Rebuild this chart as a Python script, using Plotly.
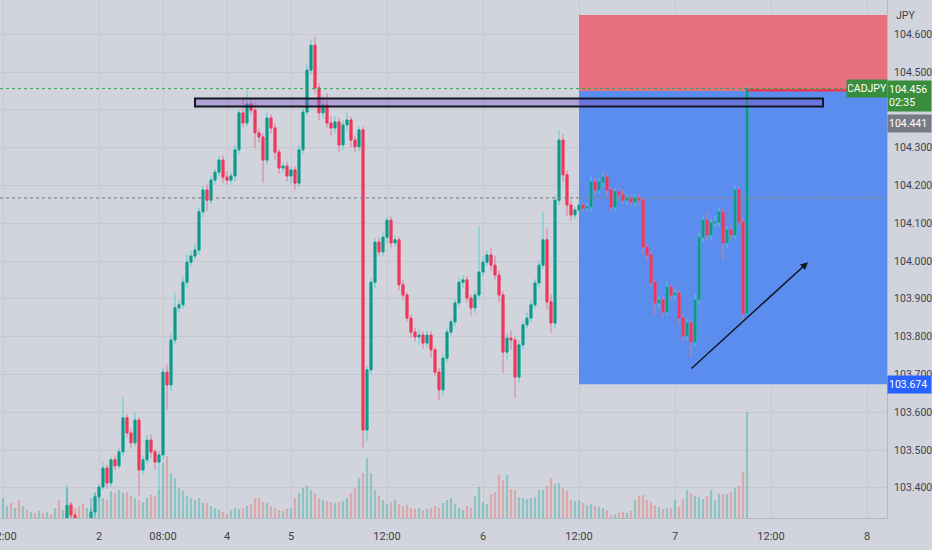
import plotly.graph_objects as go

# CADJPY 30 min bars, x = bar index (2 bars per hour, weekend gap skipped)
first_open = 103.255
close = [
    103.262, 103.275, 103.267, 103.283, 103.272, 103.288, 103.278, 103.294, 103.286, 103.299,
    103.291, 103.304, 103.296, 103.310, 103.304, 103.315, 103.354, 103.328, 103.315, 103.310,
    103.302, 103.315, 103.336, 103.376, 103.402, 103.452, 103.413, 103.474, 103.458, 103.495,
    103.585, 103.545, 103.519, 103.579, 103.447, 103.474, 103.526, 103.495, 103.468, 103.487,
    103.706, 103.672, 103.791, 103.876, 103.884, 103.944, 103.997, 104.013, 104.029, 104.130,
    104.188, 104.161, 104.214, 104.235, 104.267, 104.222, 104.214, 104.225, 104.294, 104.392,
    104.365, 104.415, 104.399, 104.339, 104.328, 104.267, 104.378, 104.352, 104.288, 104.246,
    104.251, 104.225, 104.241, 104.206, 104.294, 104.394, 104.505, 104.571, 104.458, 104.392,
    104.413, 104.365, 104.352, 104.368, 104.307, 104.360, 104.373, 104.320, 104.302, 104.347,
    103.553, 103.712, 103.944, 104.050, 104.024, 104.063, 104.108, 104.048, 104.056, 103.937,
    103.910, 103.849, 103.812, 103.799, 103.804, 103.783, 103.804, 103.765, 103.706, 103.659,
    103.743, 103.812, 103.839, 103.889, 103.944, 103.950, 103.902, 103.876, 103.910, 103.971,
    103.997, 104.016, 103.989, 103.963, 103.910, 103.759, 103.796, 103.791, 103.693, 103.778,
    103.831, 103.849, 103.884, 103.942, 103.989, 104.056, 103.892, 103.836, 104.161, 104.320,
    104.228, 104.148, 104.122, 104.135, 104.148, 104.140, 104.143, 104.209, 104.188, 104.209,
    104.222, 104.188, 104.143, 104.183, 104.175, 104.161, 104.167, 104.156, 104.167, 104.161,
    104.037, 104.016, 103.944, 103.889, 103.897, 103.865, 103.931, 103.910, 103.915, 103.849,
    103.802, 103.836, 103.786, 103.897, 104.063, 104.108, 104.069, 104.101, 104.103, 104.130,
    104.048, 104.082, 104.069, 104.188, 104.103, 103.862, 104.456,
]
wick_up = [
    0.006, 0.005, 0.008, 0.004, 0.007, 0.005, 0.006, 0.004, 0.006, 0.005,
    0.005, 0.006, 0.004, 0.007, 0.005, 0.006, 0.053, 0.008, 0.005, 0.006,
    0.004, 0.006, 0.010, 0.012, 0.008, 0.015, 0.010, 0.008, 0.012, 0.010,
    0.055, 0.010, 0.012, 0.020, 0.008, 0.010, 0.012, 0.015, 0.008, 0.010,
    0.010, 0.020, 0.018, 0.040, 0.012, 0.015, 0.020, 0.015, 0.018, 0.012,
    0.010, 0.015, 0.012, 0.008, 0.010, 0.012, 0.015, 0.010, 0.012, 0.010,
    0.042, 0.037, 0.015, 0.020, 0.012, 0.010, 0.015, 0.010, 0.012, 0.008,
    0.010, 0.012, 0.008, 0.010, 0.012, 0.010, 0.015, 0.015, 0.022, 0.012,
    0.025, 0.030, 0.020, 0.015, 0.010, 0.012, 0.020, 0.008, 0.012, 0.010,
    0.008, 0.010, 0.010, 0.010, 0.012, 0.015, 0.008, 0.010, 0.012, 0.008,
    0.012, 0.008, 0.010, 0.012, 0.015, 0.010, 0.012, 0.010, 0.008, 0.010,
    0.012, 0.010, 0.008, 0.010, 0.012, 0.012, 0.010, 0.008, 0.012, 0.119,
    0.015, 0.012, 0.020, 0.025, 0.012, 0.010, 0.015, 0.020, 0.010, 0.012,
    0.010, 0.015, 0.012, 0.010, 0.012, 0.074, 0.030, 0.020, 0.012, 0.027,
    0.015, 0.010, 0.012, 0.008, 0.010, 0.008, 0.010, 0.015, 0.012, 0.010,
    0.012, 0.010, 0.008, 0.010, 0.012, 0.015, 0.010, 0.008, 0.012, 0.010,
    0.008, 0.010, 0.012, 0.008, 0.010, 0.012, 0.015, 0.010, 0.012, 0.008,
    0.010, 0.012, 0.008, 0.015, 0.012, 0.010, 0.020, 0.012, 0.015, 0.010,
    0.012, 0.010, 0.015, 0.013, 0.010, 0.010, 0.007,
]
wick_dn = [
    0.005, 0.007, 0.004, 0.006, 0.005, 0.006, 0.004, 0.007, 0.005, 0.006,
    0.006, 0.004, 0.007, 0.005, 0.006, 0.005, 0.008, 0.010, 0.012, 0.008,
    0.010, 0.008, 0.006, 0.010, 0.012, 0.008, 0.015, 0.010, 0.012, 0.008,
    0.010, 0.012, 0.015, 0.010, 0.067, 0.012, 0.010, 0.015, 0.020, 0.082,
    0.012, 0.066, 0.015, 0.010, 0.012, 0.010, 0.015, 0.012, 0.010, 0.012,
    0.015, 0.030, 0.010, 0.012, 0.010, 0.015, 0.012, 0.010, 0.015, 0.012,
    0.012, 0.010, 0.012, 0.040, 0.015, 0.060, 0.012, 0.015, 0.020, 0.015,
    0.012, 0.015, 0.020, 0.018, 0.010, 0.012, 0.010, 0.012, 0.015, 0.020,
    0.015, 0.012, 0.020, 0.015, 0.018, 0.012, 0.015, 0.020, 0.015, 0.012,
    0.048, 0.030, 0.012, 0.015, 0.010, 0.012, 0.015, 0.012, 0.010, 0.015,
    0.012, 0.010, 0.015, 0.012, 0.020, 0.015, 0.012, 0.020, 0.012, 0.027,
    0.015, 0.012, 0.010, 0.012, 0.010, 0.015, 0.012, 0.020, 0.015, 0.010,
    0.012, 0.010, 0.015, 0.012, 0.020, 0.055, 0.020, 0.025, 0.055, 0.015,
    0.012, 0.010, 0.012, 0.010, 0.012, 0.010, 0.020, 0.026, 0.015, 0.012,
    0.020, 0.030, 0.015, 0.012, 0.010, 0.012, 0.010, 0.012, 0.015, 0.010,
    0.012, 0.015, 0.012, 0.010, 0.012, 0.010, 0.012, 0.010, 0.012, 0.015,
    0.020, 0.015, 0.012, 0.030, 0.015, 0.012, 0.010, 0.015, 0.012, 0.020,
    0.015, 0.012, 0.040, 0.012, 0.010, 0.012, 0.015, 0.012, 0.010, 0.012,
    0.045, 0.012, 0.015, 0.010, 0.012, 0.023, 0.005,
]
volume = [
    20, 12, 15, 10, 18, 12, 8, 6, 5, 7,
    5, 6, 4, 10, 18, 8, 30, 15, 10, 12,
    14, 10, 20, 25, 22, 20, 18, 27, 25, 28,
    25, 26, 22, 20, 18, 16, 20, 23, 22, 28,
    55, 62, 45, 40, 30, 27, 22, 20, 18, 20,
    15, 15, 12, 10, 8, 6, 4, 8, 10, 9,
    10, 12, 14, 20, 20, 16, 15, 12, 10, 8,
    7, 9, 10, 20, 25, 30, 32, 28, 25, 20,
    18, 17, 16, 15, 16, 17, 20, 25, 30, 40,
    45, 60, 45, 28, 22, 18, 14, 16, 18, 14,
    12, 13, 10, 9, 10, 8, 9, 10, 12, 10,
    15, 18, 20, 14, 10, 8, 12, 10, 22, 31,
    16, 14, 24, 26, 43, 38, 43, 29, 28, 21,
    20, 19, 20, 21, 28, 28, 32, 40, 34, 35,
    30, 27, 18, 17, 18, 15, 13, 14, 12, 11,
    10, 8, 3, 4, 5, 6, 5, 7, 18, 22,
    23, 18, 16, 13, 11, 9, 10, 10, 18, 11,
    19, 28, 25, 22, 21, 19, 22, 28, 18, 24,
    24, 24, 26, 30, 32, 46, 106,
]

tick_pos = [0, 24, 40, 56, 72, 96, 120, 144, 168, 192, 216]
tick_text = ["12:00", "2", "08:00", "4", "5", "12:00", "6", "12:00", "7", "12:00", "8"]
price_ticks = [103.4, 103.5, 103.6, 103.7, 103.8, 103.9, 104.0, 104.1, 104.2, 104.3, 104.4, 104.5, 104.6]
# 104.400 sits under the live price label, so its text is left blank
price_text = ["" if p == 104.4 else f"{p:.3f}" for p in price_ticks]

last_price = 104.456
countdown = "02:35"
entry_price = 104.45
stop_price = 104.651
target_price = 103.674
level_price = 104.441
prev_close = 104.167
zone_start = 144
resistance = (48, 205, 104.409, 104.430)
arrow = (171.75, 103.712, 201.25, 103.997)

BG = "#d1d4dc"
GRID = "#c5c8d0"
TEXT = "#3e424d"

idx = list(range(len(close)))
opens = [first_open] + close[:-1]
highs = [max(o, c) + w for o, c, w in zip(opens, close, wick_up)]
lows = [min(o, c) - w for o, c, w in zip(opens, close, wick_dn)]
body_hi = [max(o, c) for o, c in zip(opens, close)]
body_lo = [min(o, c) for o, c in zip(opens, close)]
vol_colors = ["rgba(38,166,154,0.38)" if c >= o else "rgba(239,83,80,0.33)" for o, c in zip(opens, close)]

fig = go.Figure()
fig.add_trace(go.Bar(x=idx, y=volume, marker=dict(color=vol_colors, line=dict(width=0)),
                     width=0.55, yaxis="y2", hoverinfo="skip"))
fig.add_trace(go.Candlestick(
    x=idx, open=opens, high=highs, low=lows, close=close, whiskerwidth=0,
    increasing=dict(line=dict(color="#5ccbd6", width=1), fillcolor="#5ccbd6"),
    decreasing=dict(line=dict(color="#e2789a", width=1), fillcolor="#e2789a"),
    hoverinfo="skip",
))
fig.add_trace(go.Candlestick(
    x=idx, open=opens, high=body_hi, low=body_lo, close=close, whiskerwidth=0,
    increasing=dict(line=dict(color="#0f9a86", width=1), fillcolor="#0f9a86"),
    decreasing=dict(line=dict(color="#f2365a", width=1), fillcolor="#f2365a"),
    hoverinfo="skip",
))

# short position tool
fig.add_shape(type="rect", xref="x", yref="y", x0=zone_start, x1=230, y0=entry_price, y1=stop_price,
              fillcolor="#e8707e", line=dict(width=0), layer="between")
fig.add_shape(type="rect", xref="x", yref="y", x0=zone_start, x1=230, y0=target_price, y1=entry_price,
              fillcolor="#5b8def", line=dict(width=0), layer="between")
fig.add_shape(type="line", xref="x", yref="y", x0=idx[-1], x1=230, y0=entry_price + 0.002, y1=entry_price + 0.002,
              line=dict(color="#f0364c", width=2.5))

# price lines
fig.add_shape(type="line", xref="paper", yref="y", x0=0, x1=1, y0=last_price, y1=last_price,
              line=dict(color="#2f9e55", width=1, dash="dot"))
fig.add_shape(type="line", xref="paper", yref="y", x0=0, x1=1, y0=prev_close, y1=prev_close,
              line=dict(color="#85878e", width=1.2, dash="dot"))

# resistance box
fig.add_shape(type="rect", xref="x", yref="y", x0=resistance[0], x1=resistance[1],
              y0=resistance[2], y1=resistance[3],
              fillcolor="rgba(126,87,194,0.4)", line=dict(color="#131722", width=2), layer="above")

fig.add_annotation(x=arrow[2], y=arrow[3], ax=arrow[0], ay=arrow[1], xref="x", yref="y",
                   axref="x", ayref="y", showarrow=True, arrowhead=2, arrowsize=1,
                   arrowwidth=1.5, arrowcolor="#131722", text="")

# price axis labels
label_font = dict(family="Roboto", size=10.5, color="white")
fig.add_annotation(x=867 / 887, y=last_price, xref="paper", yref="y", text="CADJPY",
                   xanchor="center", yanchor="middle", showarrow=False, bgcolor="#388e3c",
                   font=label_font, width=38, height=15)
fig.add_annotation(x=1.0, y=(518 - 96) / 518, xref="paper", yref="paper",
                   text=f"{last_price:.3f}<br>{countdown}", xanchor="left", yanchor="middle",
                   showarrow=False, align="left", bgcolor="#388e3c", font=label_font, width=41, height=28)
fig.add_annotation(x=1.0, y=(518 - 123.5) / 518, xref="paper", yref="paper", text=f"{level_price:.3f}",
                   xanchor="left", yanchor="middle", showarrow=False, align="left", bgcolor="#787b86",
                   font=label_font, width=41, height=15)
fig.add_annotation(x=1.0, y=target_price, xref="paper", yref="y", text=f"{target_price:.3f}",
                   xanchor="left", yanchor="middle", showarrow=False, align="left", bgcolor="#2962ff",
                   font=label_font, width=41, height=15)
fig.add_annotation(x=894 / 887, y=(518 - 15) / 518, xref="paper", yref="paper", text="JPY",
                   xanchor="left", yanchor="middle", showarrow=False,
                   font=dict(family="Roboto", size=10.5, color=TEXT))

fig.update_layout(
    width=932, height=550,
    margin=dict(l=0, r=45, t=0, b=32, autoexpand=False),
    paper_bgcolor=BG, plot_bgcolor=BG,
    showlegend=False, hovermode=False, barmode="overlay",
    font=dict(family="Roboto", size=11, color=TEXT),
    xaxis=dict(
        range=[-0.75, 221], tickvals=tick_pos, ticktext=tick_text, ticklabeloverflow="allow",
        automargin=False,
        showgrid=True, gridcolor=GRID, gridwidth=1, zeroline=False,
        showline=True, linecolor="#b4b7bf", ticks="outside", ticklen=8, tickcolor="rgba(0,0,0,0)",
        rangeslider=dict(visible=False), fixedrange=True,
    ),
    yaxis=dict(
        range=[103.3201, 104.6905], side="right", tickvals=price_ticks, ticktext=price_text,
        automargin=False, tickfont=dict(size=10.5),
        showgrid=True, gridcolor=GRID, gridwidth=1, zeroline=False,
        showline=True, linecolor="#b4b7bf", ticks="outside", ticklen=4, tickcolor="rgba(0,0,0,0)",
        fixedrange=True,
    ),
    yaxis2=dict(range=[0, 518], overlaying="y", visible=False, fixedrange=True),
)

fig.write_html("out.html", config={"displayModeBar": False},
               post_script="document.body.style.margin='0';document.body.style.overflow='hidden';")
